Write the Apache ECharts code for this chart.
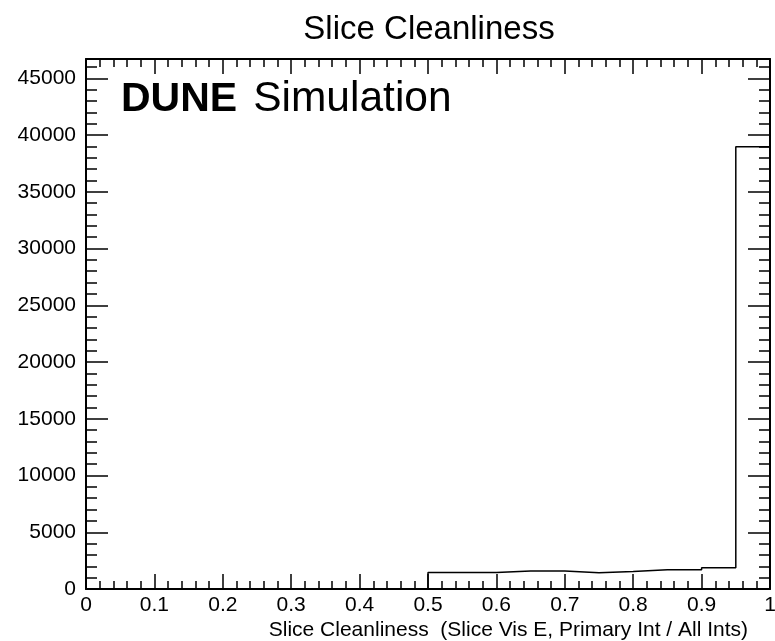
<!DOCTYPE html>
<html>
<head>
<meta charset="utf-8">
<script src="https://cdn.jsdelivr.net/npm/echarts@6/dist/echarts.min.js"></script>
<style>
  html, body { margin: 0; padding: 0; background: #fff; }
  #chart { width: 775px; height: 641px; }
</style>
</head>
<body>
<div id="chart"></div>
<script>
// Histogram of slice cleanliness: lower bin edges and entries per bin
const binLowEdges = [0.00, 0.05, 0.10, 0.15, 0.20, 0.25, 0.30, 0.35, 0.40, 0.45,
                     0.50, 0.55, 0.60, 0.65, 0.70, 0.75, 0.80, 0.85, 0.90, 0.95];
const binCounts   = [0, 0, 0, 0, 0, 0, 0, 0, 0, 0,
                     1460, 1460, 1580, 1580, 1440, 1550, 1700, 1700, 1880, 38970];
const binWidth = 0.05;

// Axis ranges and tick spacing
const xRange = [0, 1];
const xMajorStep = 0.1;
const yRange = [0, 46700];
const yMajorStep = 5000;
const yMinorStep = 1000;

const FONT = "'Liberation Sans', Arial, Helvetica, sans-serif";

// Step outline: flat top across each bin, vertical jumps at the edges
const outline = [];
binLowEdges.forEach((x, i) => {
  outline.push([x, binCounts[i]]);
  outline.push([+(x + binWidth).toFixed(2), binCounts[i]]);
});

const chart = echarts.init(document.getElementById('chart'), null, { renderer: 'canvas' });

function frameLine(show) {
  return { show: show, onZero: false, lineStyle: { color: '#000', width: 2 } };
}
function tickStyle() {
  return { color: '#000', width: 1.5 };
}

function xAxisDef(position, showLabels) {
  return {
    type: 'value', position: position, min: xRange[0], max: xRange[1], interval: xMajorStep,
    axisLine: frameLine(true),
    axisTick: { show: true, inside: true, length: 15, lineStyle: tickStyle() },
    minorTick: { show: true, splitNumber: 5, length: 8, lineStyle: tickStyle() },
    axisLabel: {
      show: showLabels, color: '#000', fontFamily: FONT, fontSize: 21, margin: 6,
      formatter: v => String(Math.round(v * 10) / 10)
    },
    splitLine: { show: false }
  };
}

function yAxisDef(position, step, tickLen, showLine, showLabels) {
  return {
    type: 'value', position: position, min: yRange[0], max: yRange[1], interval: step,
    offset: 0,
    axisLine: frameLine(showLine),
    axisTick: { show: true, inside: true, length: tickLen, lineStyle: tickStyle() },
    axisLabel: {
      show: showLabels, color: '#000', fontFamily: FONT, fontSize: 21, margin: 10,
      showMaxLabel: false, formatter: v => String(v)
    },
    splitLine: { show: false }
  };
}

chart.setOption({
  backgroundColor: '#fff',
  animation: false,
  title: [
    {
      text: 'Slice Cleanliness',
      left: 424, top: 8, textAlign: 'center',
      textStyle: { fontFamily: FONT, fontSize: 33, fontWeight: 'normal', color: '#000' }
    },
    {
      text: '{b|DUNE}{r|Simulation}',
      left: 116, top: 73,
      textStyle: {
        rich: {
          b: { fontFamily: FONT, fontSize: 41, fontWeight: 'bold', color: '#000' },
          r: { fontFamily: FONT, fontSize: 42.5, fontWeight: 'normal', color: '#000', padding: [0, 0, 0, 16] }
        }
      }
    },
    {
      text: 'Slice Cleanliness  (Slice Vis E, Primary Int / All Ints)',
      right: 22, top: 615,
      textStyle: { fontFamily: FONT, fontSize: 21, fontWeight: 'normal', color: '#000' }
    }
  ],
  grid: { left: 86, right: 5, top: 59, bottom: 52, containLabel: false, outerBoundsMode: 'none' },
  xAxis: [xAxisDef('bottom', true), xAxisDef('top', false)],
  yAxis: [
    yAxisDef('left', yMajorStep, 22, true, true),
    yAxisDef('left', yMinorStep, 11, false, false),
    yAxisDef('right', yMajorStep, 22, true, false),
    yAxisDef('right', yMinorStep, 11, false, false)
  ],
  series: [{
    type: 'line',
    name: 'Slice Cleanliness',
    xAxisIndex: 0, yAxisIndex: 0,
    data: outline,
    showSymbol: false,
    symbol: 'none',
    lineStyle: { color: '#000', width: 1.5 },
    z: 1
  }]
});
</script>
</body>
</html>
